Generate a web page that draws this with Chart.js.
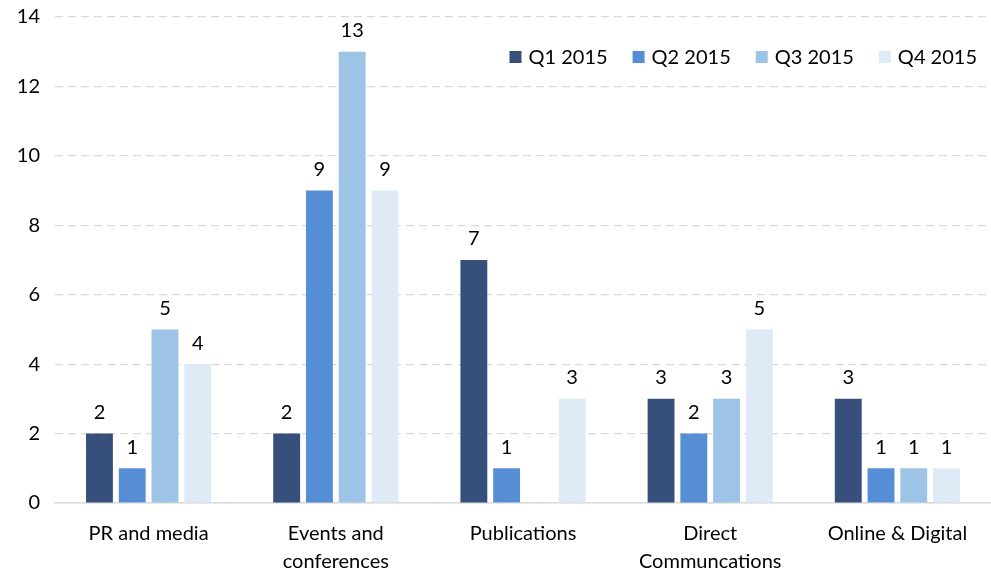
<!DOCTYPE html>
<html>
<head>
<meta charset="utf-8">
<script src="https://cdn.jsdelivr.net/npm/chart.js@4/dist/chart.umd.min.js"></script>
<style>
html,body{margin:0;padding:0;background:#fff;}
#wrap{width:991px;height:574px;position:relative;}
</style>
</head>
<body>
<div id="wrap"><canvas id="c" width="991" height="574"></canvas></div>
<script>
const categories = ["PR and media", ["Events and", "conferences"], "Publications", ["Direct", "Communcations"], "Online & Digital"];
const seriesNames = ["Q1 2015", "Q2 2015", "Q3 2015", "Q4 2015"];
const q1 = [2, 2, 7, 3, 3];
const q2 = [1, 9, 1, 2, 1];
const q3 = [5, 13, 0, 3, 1];
const q4 = [4, 9, 3, 5, 1];
const seriesColors = ["#364F7B", "#558ED5", "#9DC3E6", "#DEEAF6"];
const yTicks = [0, 2, 4, 6, 8, 10, 12, 14];

const FONT = "Lato, 'Open Sans', sans-serif";
const FSIZE = 20;

const valueLabels = {
  id: 'valueLabels',
  afterDatasetsDraw(chart) {
    const ctx = chart.ctx;
    ctx.save();
    ctx.font = FSIZE + "px " + FONT;
    ctx.fillStyle = "#000";
    ctx.textAlign = "center";
    ctx.textBaseline = "bottom";
    chart.data.datasets.forEach((ds, i) => {
      const meta = chart.getDatasetMeta(i);
      meta.data.forEach((bar, j) => {
        const v = ds.data[j];
        if (!v) return;
        ctx.fillText(String(v), bar.x, bar.y - 11);
      });
    });
    ctx.restore();
  }
};

const insideLegend = {
  id: 'insideLegend',
  afterDraw(chart) {
    const ctx = chart.ctx;
    const area = chart.chartArea;
    ctx.save();
    ctx.font = FSIZE + "px " + FONT;
    ctx.textBaseline = "middle";
    ctx.textAlign = "left";
    const box = 12, gap = 7, spacing = 25;
    const widths = chart.data.datasets.map(ds => box + gap + ctx.measureText(ds.label).width);
    const total = widths.reduce((a, b) => a + b, 0) + spacing * (widths.length - 1);
    let x = 977 - total;
    const y = area.top + 40;
    chart.data.datasets.forEach((ds, i) => {
      ctx.fillStyle = ds.backgroundColor;
      ctx.fillRect(x, y - box / 2, box, box);
      ctx.fillStyle = "#000";
      ctx.fillText(ds.label, x + box + gap, y + 1);
      x += widths[i] + spacing;
    });
    ctx.restore();
  }
};

new Chart(document.getElementById('c'), {
  type: 'bar',
  data: {
    labels: categories,
    datasets: [q1, q2, q3, q4].map((d, i) => ({
      label: seriesNames[i],
      data: d,
      backgroundColor: seriesColors[i],
      borderWidth: 0,
      categoryPercentage: 0.70,
      barPercentage: 0.82
    }))
  },
  options: {
    responsive: false,
    animation: false,
    layout: { padding: { top: 17, right: 0, left: 0, bottom: 0 } },
    plugins: {
      legend: { display: false },
      tooltip: { enabled: false }
    },
    scales: {
      x: {
        grid: { display: false, drawTicks: false },
        border: { display: true, color: '#d9d9d9', width: 1.5 },
        ticks: { color: '#000', font: { size: FSIZE, family: FONT, lineHeight: 1.4 }, padding: 17, maxRotation: 0, autoSkip: false },
        afterFit(scale) { scale.height = 71; scale.paddingRight = 0; scale.paddingLeft = 0; }
      },
      y: {
        min: 0, max: 14,
        afterBuildTicks(scale) { scale.ticks = yTicks.map(v => ({ value: v })); },
        afterFit(scale) { scale.width = 55; scale.paddingTop = 0; scale.paddingBottom = 0; },
        grid: { color: '#d9d9d9', lineWidth: 1.2, drawTicks: false },
        border: { display: false, dash: [8, 5] },
        ticks: { color: '#000', font: { size: FSIZE, family: FONT }, padding: 15 }
      }
    }
  },
  plugins: [valueLabels, insideLegend]
});
</script>
</body>
</html>
